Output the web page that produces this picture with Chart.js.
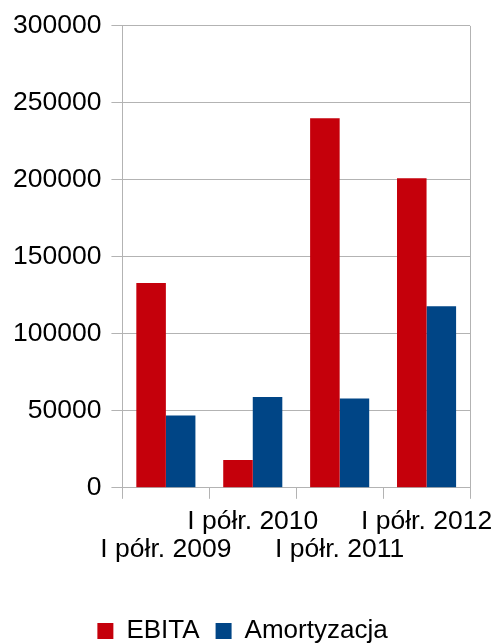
<!DOCTYPE html>
<html>
<head>
<meta charset="utf-8">
<script src="https://cdn.jsdelivr.net/npm/chart.js@4/dist/chart.umd.min.js"></script>
<style>
    html, body { margin: 0; padding: 0; background: #ffffff; overflow: hidden; }
    #wrap { width: 494px; height: 644px; }
</style>
</head>
<body>
<div id="wrap"><canvas id="chart"></canvas></div>
<script>
const categories = ['I półr. 2009', 'I półr. 2010', 'I półr. 2011', 'I półr. 2012'];
const ebita = [133000, 18000, 240000, 201000];
const amortyzacja = [47000, 59000, 58000, 118000];
const yMin = 0;
const yMax = 300000;
const yStep = 50000;

const gridColor = '#b3b3b3';
const colors = {
    ebita: '#c5000b',
    amortyzacja: '#004586'
};

Chart.defaults.font.family = "'Liberation Sans', Arial, sans-serif";
Chart.defaults.font.size = 26.5;
Chart.defaults.color = '#000000';

const ctx = document.getElementById('chart').getContext('2d');
new Chart(ctx, {
    type: 'bar',
    data: {
        labels: categories,
        datasets: [{
            label: 'EBITA',
            data: ebita,
            backgroundColor: colors.ebita,
            borderWidth: 0
        }, {
            label: 'Amortyzacja',
            data: amortyzacja,
            backgroundColor: colors.amortyzacja,
            borderWidth: 0
        }]
    },
    options: {
        responsive: true,
        maintainAspectRatio: false,
        animation: false,
        categoryPercentage: 0.68,
        barPercentage: 1.0,
        layout: {
            padding: { top: 25, right: 12, left: 3, bottom: -10 }
        },
        scales: {
            x: {
                grid: {
                    offset: true,
                    drawOnChartArea: true,
                    // only the right edge of the plot gets a line
                    color: (c) => c.type === 'tick' ? 'transparent' : gridColor,
                    tickColor: gridColor,
                    tickLength: 11
                },
                border: { color: gridColor },
                ticks: {
                    autoSkip: false,
                    maxRotation: 0,
                    minRotation: 0,
                    padding: 9,
                    color: '#000000',
                    font: { lineHeight: 1.06 },
                    callback: function (value, index) {
                        const label = this.getLabelForValue(value);
                        return index % 2 === 0 ? ['', label] : [label, ''];
                    }
                },
                afterFit: (scale) => {
                    // let the last label hang past the plot like in the original
                    scale.paddingLeft = 0;
                    scale.paddingRight = 24;
                    scale.height += 29;
                }
            },
            y: {
                min: yMin,
                max: yMax,
                grid: {
                    color: gridColor,
                    tickLength: 11
                },
                border: { color: gridColor },
                ticks: {
                    stepSize: yStep,
                    padding: 10,
                    color: '#000000',
                    callback: (value) => String(value)
                }
            }
        },
        plugins: {
            legend: {
                position: 'bottom',
                labels: {
                    boxWidth: 16,
                    boxHeight: 16,
                    padding: 16,
                    color: '#000000',
                    font: { size: 26 }
                }
            },
            tooltip: { enabled: false }
        }
    }
});
</script>
</body>
</html>
